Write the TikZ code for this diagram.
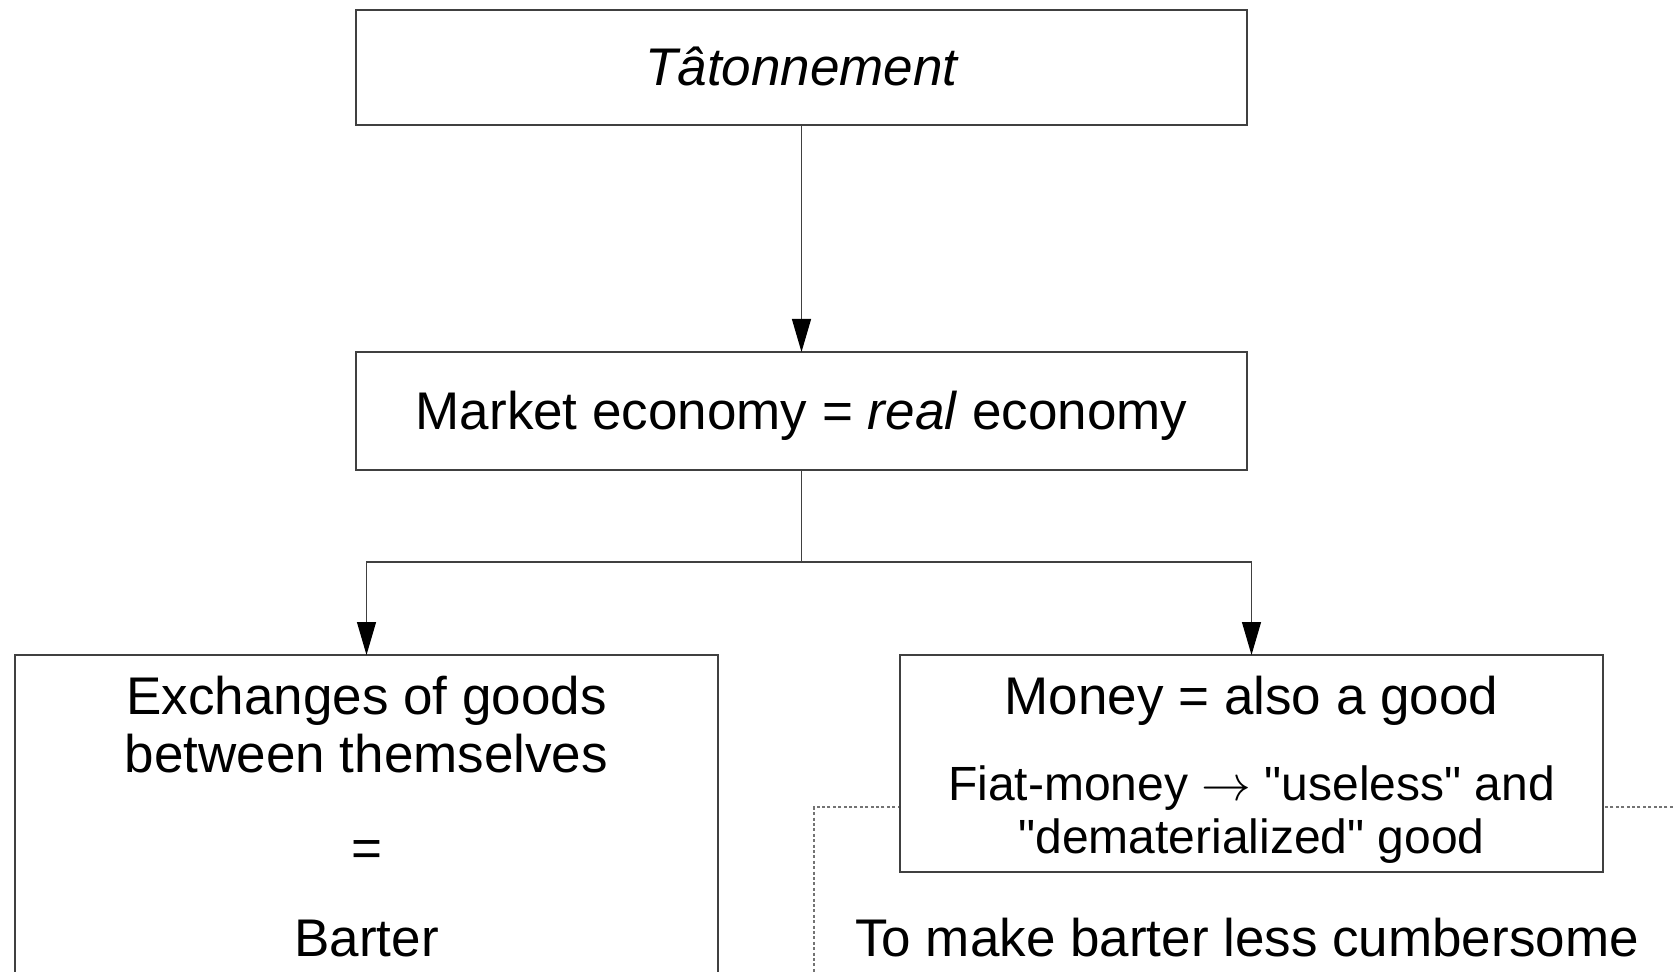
\documentclass[tikz,border=0pt]{standalone}
\usepackage{fontspec}
\setmainfont{Liberation Sans}[Ligatures=TeXOff]
\usetikzlibrary{arrows.meta}
\begin{document}
\begin{tikzpicture}[x=0.5pt,y=-0.5pt,
  box/.style={draw=black!75, line width=0.6pt, fill=white, rectangle, anchor=north west, inner sep=0pt, outer sep=0pt},
  arr/.style={draw=black!75, line width=0.6pt, -{Triangle[length=16.5pt,width=9.5pt,color=black]}},
  link/.style={draw=black!75, line width=0.6pt},
  frame/.style={draw=black!55, line width=0.6pt, dash pattern=on 1.5pt off 1.2pt, rectangle, anchor=north west, inner sep=0pt, outer sep=0pt},
  bigtxt/.style={font=\fontsize{26.5}{32}\selectfont, anchor=base, inner sep=0pt},
  smalltxt/.style={font=\fontsize{24}{29}\selectfont, anchor=base, inner sep=0pt}]
\useasboundingbox (0,0) rectangle (1675,972);
\clip (0,0) rectangle (1675,972);
\fill[white] (0,0) rectangle (1675,972);
% dashed frame (behind right box)
\node[frame, minimum width=443pt, minimum height=105pt] (frm) at (814,807) {};
% boxes
\node[box, minimum width=445.5pt, minimum height=57.5pt] (top) at (356,10) {};
\node[box, minimum width=445.5pt, minimum height=59pt] (mkt) at (356,352) {};
\node[box, minimum width=351.5pt, minimum height=175pt] (left) at (15,655) {};
\node[box, minimum width=351.5pt, minimum height=108.5pt] (right) at (900,655) {};
% texts
\node[bigtxt] (ttop) at (801.5,86) {\itshape Tâtonnement};
\node[bigtxt] (tmkt) at (801.5,430) {Market economy = \textit{real} economy};
\node[bigtxt] (tl1) at (366.5,714) {Exchanges of goods};
\node[bigtxt] (tl2) at (366.5,772) {between themselves};
\node[bigtxt] (tl3) at (366.5,866) {=};
\node[bigtxt] (tl4) at (366.5,956) {Barter};
\node[bigtxt] (tr1) at (1251.5,714) {Money = also a good};
\node[smalltxt] (tr2) at (1251.5,800) {Fiat-money $\rightarrow$ "useless" and};
\node[smalltxt] (tr3) at (1251.5,853) {"dematerialized" good};
\node[bigtxt] (tfr) at (1247,956) {To make barter less cumbersome};
% connectors
\coordinate (split) at (801.5,562);
\draw[arr] (top.south) -- (mkt.north);
\draw[link] (mkt.south) -- (split);
\draw[arr] (split) -| (left.north);
\draw[arr] (split) -| (right.north);
\end{tikzpicture}
\end{document}
